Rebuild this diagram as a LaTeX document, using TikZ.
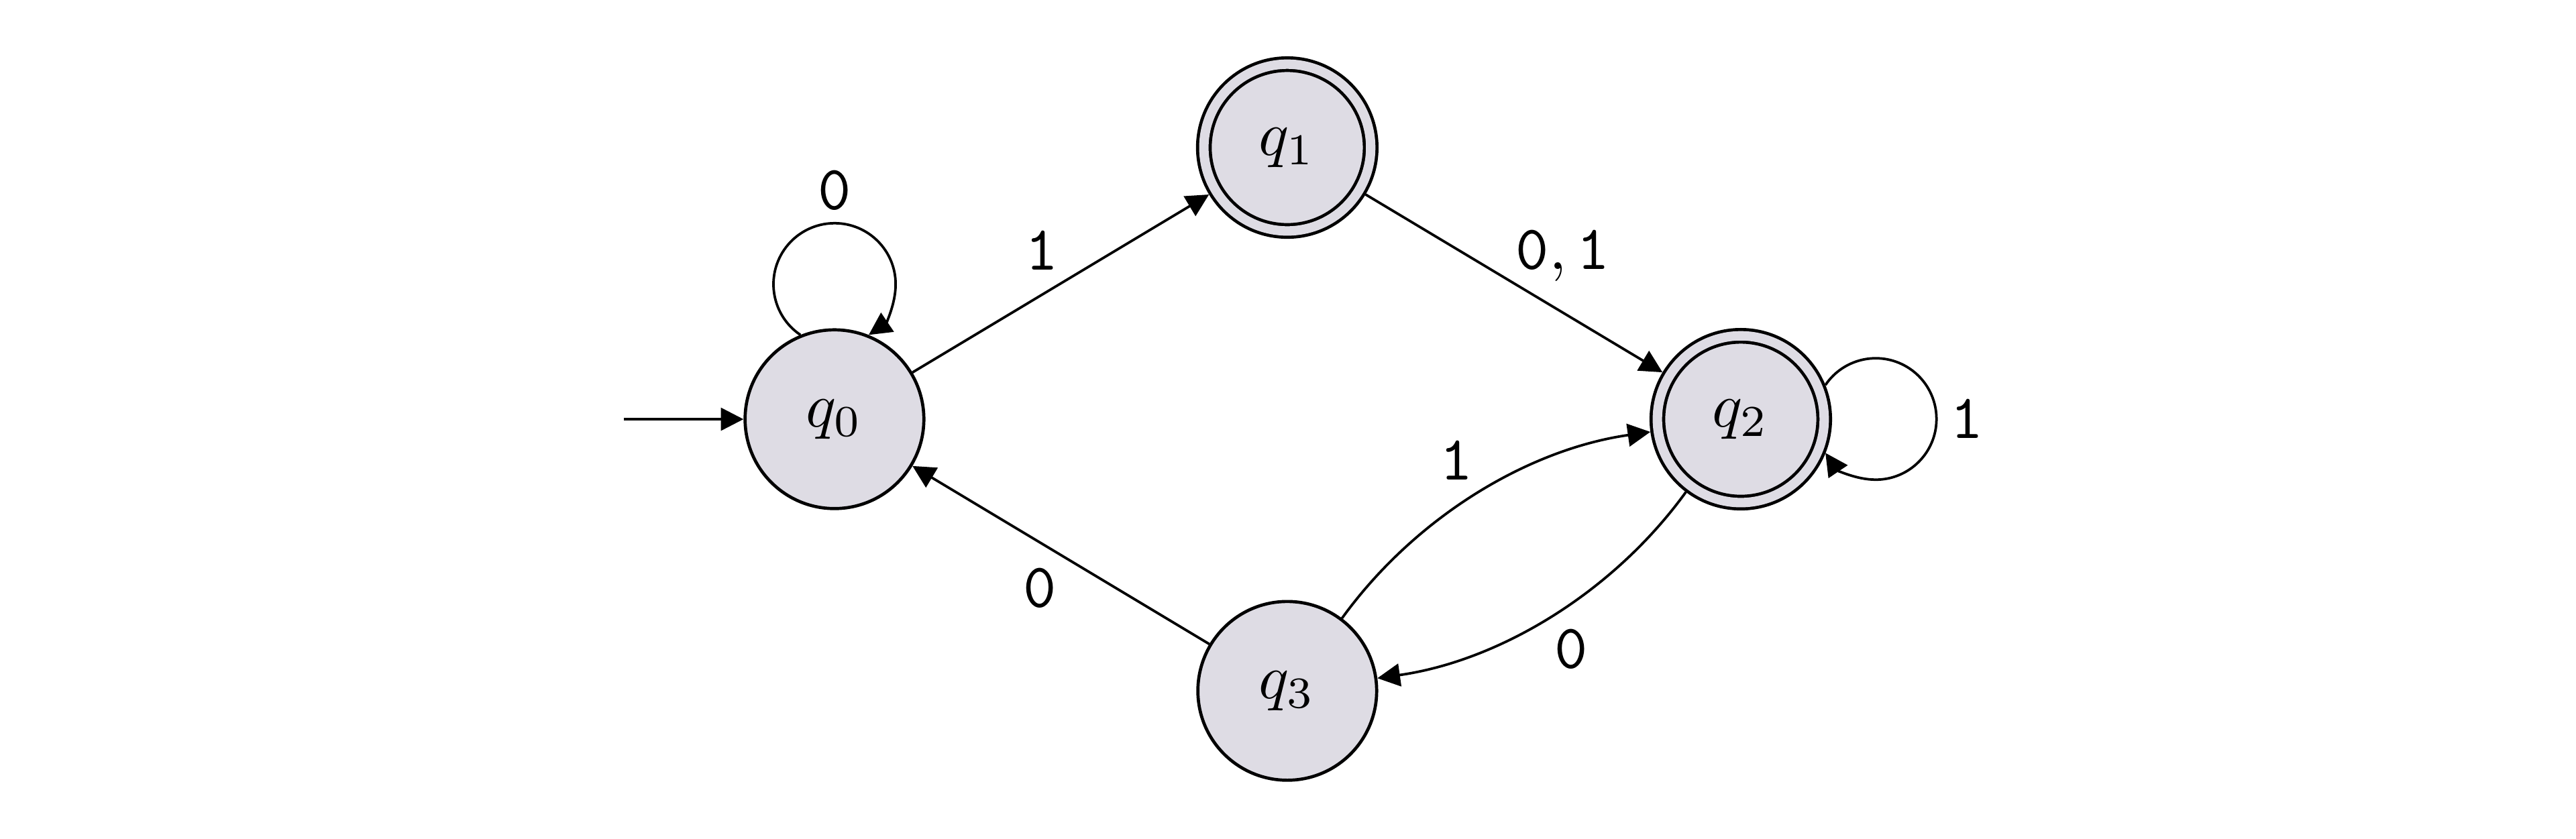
\documentclass[tikz,border=0pt]{standalone}
\usetikzlibrary{arrows.meta}
\definecolor{statefill}{RGB}{222,220,228}
\begin{document}
  \begin{tikzpicture}[
      state/.style={circle,draw,line width=0.5pt,fill=statefill,minimum size=28.4pt,inner sep=0pt},
      final/.style={state,double=statefill,double distance=1.5pt,minimum size=26.5pt,outer sep=1.25pt},
      trans/.style={-{Triangle[length=3.6pt,width=3.6pt]},line width=0.4pt},
      lbl/.style={inner sep=2pt,text depth=0pt}]
    \useasboundingbox (-4.659,-2.341) rectangle (9.723,2.341);
    \node[state] (q0) at (0,0) {$q_0$};
    \node[final] (q1) at (2.528,1.517) {$q_1$};
    \node[final] (q2) at (5.06,0) {$q_2$};
    \node[state] (q3) at (2.528,-1.517) {$q_3$};
    \coordinate (start) at (-1.176,0);
    \draw[trans] (start) -- (q0);
    \draw[trans] (q0.112) arc[start angle=236,end angle=90,radius=0.341] node[lbl,above]{$\mathtt{0}$}
                          arc[start angle=90,end angle=-56,radius=0.341];
    \draw[trans] (q0) -- (q1) node[lbl,midway,anchor=-60]{$\mathtt{1}$};
    \draw[trans] (q1) -- (q2) node[lbl,midway,anchor=214]{$\mathtt{0},\mathtt{1}$};
    \draw[trans] (q2.22) arc[start angle=146,end angle=0,radius=0.339] node[lbl,right]{$\mathtt{1}$}
                         arc[start angle=0,end angle=-146,radius=0.339];
    \draw[trans] (q2.233) to[bend left=23,looseness=0.88] node[lbl,anchor=122]{$\mathtt{0}$} (q3.8);
    \draw[trans] (q3.53) to[bend left=23,looseness=0.88] node[lbl,anchor=-58]{$\mathtt{1}$} (q2.188);
    \draw[trans] (q3) -- (q0) node[lbl,midway,anchor=58]{$\mathtt{0}$};
  \end{tikzpicture}
\end{document}
